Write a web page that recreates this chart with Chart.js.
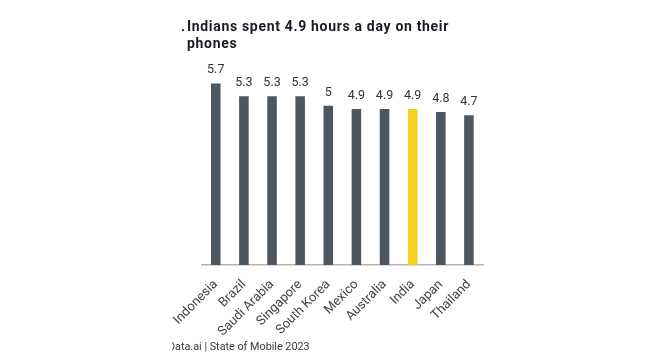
<!DOCTYPE html>
<html>
<head>
<meta charset="utf-8">
<script src="https://cdn.jsdelivr.net/npm/chart.js@4/dist/chart.umd.min.js"></script>
<style>
  html, body { margin: 0; padding: 0; background: #ffffff; }
  #wrap { position: relative; width: 655px; height: 357px; overflow: hidden; background: #fff; }
  #c { position: absolute; left: 0; top: 0; clip-path: inset(0 0 0 172px); }
  #dot { position: absolute; left: 181px; top: 18px; font: bold 14px Roboto, "Liberation Sans", sans-serif; color: #1a1a24; line-height: 17.4px; }
  #title { position: absolute; left: 187px; top: 18px; font: bold 14px Roboto, "Liberation Sans", sans-serif; letter-spacing: 0.68px; color: #1a1a24; line-height: 17.4px; white-space: nowrap; }
  #srcclip { position: absolute; left: 172px; top: 340px; width: 300px; height: 16px; overflow: hidden; }
  #src { position: absolute; left: -4px; top: 0; font: 10.8px Roboto, "Liberation Sans", sans-serif; color: #3a3a3a; white-space: nowrap; line-height: 14px; }
</style>
</head>
<body>
<div id="wrap">
  <canvas id="c" width="655" height="357"></canvas>
  <div id="dot">.</div>
  <div id="title">Indians spent 4.9 hours a day on their<br>phones</div>
  <div id="srcclip"><div id="src">Data.ai | State of Mobile 2023</div></div>
</div>
<script>
const categories = ["Indonesia", "Brazil", "Saudi Arabia", "Singapore", "South Korea", "Mexico", "Australia", "India", "Japan", "Thailand"];
const hoursPerDay = [5.7, 5.3, 5.3, 5.3, 5.0, 4.9, 4.9, 4.9, 4.8, 4.7];
const valueLabels = ["5.7", "5.3", "5.3", "5.3", "5", "4.9", "4.9", "4.9", "4.8", "4.7"];
const highlight = "India";

const GREY = "#4e5660";
const YELLOW = "#f7d020";

const valueLabelPlugin = {
  id: "valueLabels",
  afterDatasetsDraw(chart) {
    const ctx = chart.ctx;
    const meta = chart.getDatasetMeta(0);
    ctx.save();
    ctx.font = "12.5px Roboto, 'Liberation Sans', sans-serif";
    ctx.fillStyle = "#333333";
    ctx.textAlign = "center";
    ctx.textBaseline = "bottom";
    meta.data.forEach((bar, i) => {
      ctx.fillText(valueLabels[i], bar.x, bar.y - 7);
    });
    ctx.restore();
  }
};

new Chart(document.getElementById("c"), {
  type: "bar",
  data: {
    labels: categories,
    datasets: [{
      data: hoursPerDay,
      backgroundColor: categories.map(c => c === highlight ? YELLOW : GREY),
      borderWidth: 0,
      categoryPercentage: 1,
      barPercentage: 0.34
    }]
  },
  options: {
    responsive: false,
    animation: false,
    devicePixelRatio: 1,
    layout: { padding: { left: 201.7, right: 172, top: 73.9, bottom: 0 } },
    plugins: { legend: { display: false }, tooltip: { enabled: false } },
    scales: {
      x: {
        grid: { display: false, drawTicks: false },
        border: { display: true, color: "#b4b4b4", width: 1.5 },
        ticks: {
          minRotation: 45, maxRotation: 45, autoSkip: false, padding: 12,
          color: "#444444",
          font: { family: "Roboto, 'Liberation Sans', sans-serif", size: 13 }
        },
        afterFit(scale) { scale.height = 92; }
      },
      y: { display: false, min: 0, max: 6 }
    }
  },
  plugins: [valueLabelPlugin]
});
</script>
</body>
</html>
